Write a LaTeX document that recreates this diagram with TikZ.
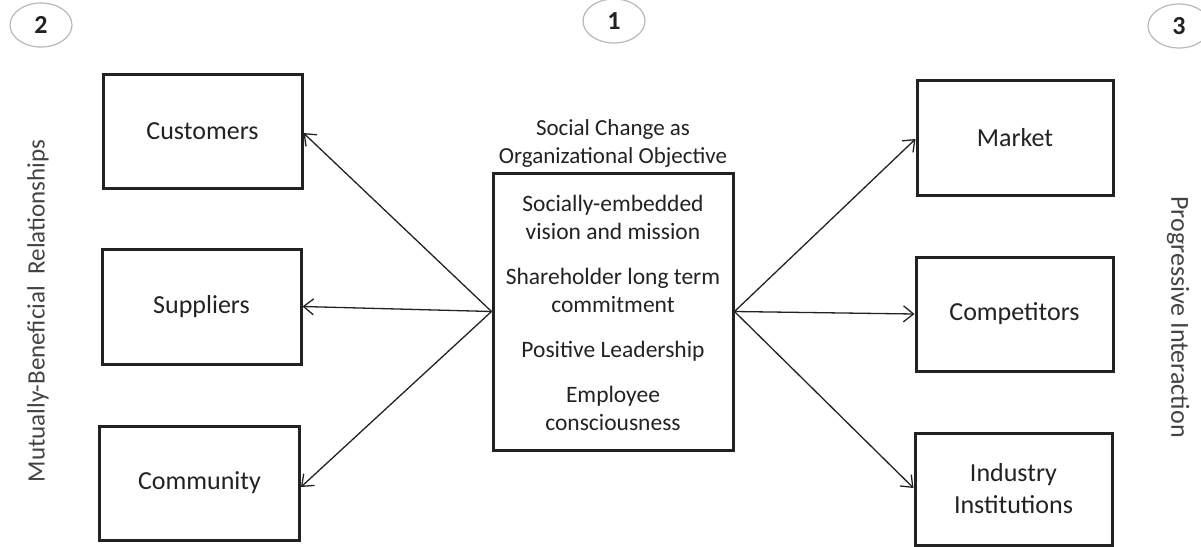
\documentclass[tikz,border=0pt]{standalone}
\usepackage{fontspec}
\setmainfont{Carlito}
\usetikzlibrary{arrows.meta,shapes.geometric}
\definecolor{ink}{HTML}{222222}
\definecolor{ring}{HTML}{B8B8B8}
\begin{document}
\begin{tikzpicture}[x=1pt,y=-1pt,
  box/.style={draw=ink,line width=3pt,rectangle,text=ink,align=center,
    font=\fontsize{26}{30}\selectfont},
  link/.style={draw=ink,line width=1.3pt,-{Straight Barb[length=10pt,width=16pt,line width=1.3pt]}},
  badge/.style={draw=ring,line width=1.2pt,ellipse,text=ink,
    font=\fontsize{26}{26}\selectfont\bfseries},
  side/.style={text=ink!85,font=\fontsize{25}{30}\selectfont}]
\useasboundingbox (0,0) rectangle (1201,546);

% left column
\node[box,minimum width=199pt,minimum height=114pt] (cust) at (202.5,131) {Customers};
\node[box,minimum width=199pt,minimum height=115pt] (supp) at (201.5,306.5) {Suppliers};
\node[box,minimum width=200pt,minimum height=114pt] (comm) at (199.5,483) {Community};

% right column
\node[box,minimum width=196pt,minimum height=115pt] (mark) at (1015,137.5) {Market};
\node[box,minimum width=197pt,minimum height=114pt] (comp) at (1014.5,314) {Competitors};
\node[box,minimum width=197pt,minimum height=112pt] (inst) at (1013.5,489)
  {Industry\\[2pt]Institutions};

% centre block
\node[draw=ink,line width=3pt,minimum width=240pt,minimum height=277pt] (core) at (613,311.5) {};
\node[text=ink,align=center,font=\fontsize{23.5}{28}\selectfont] (items) at (613,313)
  {Socially-embedded\\vision and mission\\[17pt]
   Shareholder long term\\commitment\\[17pt]
   Positive Leadership\\[17pt]
   Employee\\consciousness};
\node[text=ink,align=center,font=\fontsize{23}{28}\selectfont] (goal) at (613,143)
  {Social Change as\\Organizational Objective};

% connectors
\coordinate (lhub) at (core.west);
\coordinate (rhub) at (core.east);
\draw[link] (lhub) -- (cust.east |- 0,133);
\draw[link] (lhub) -- (supp.east);
\draw[link] (lhub) -- (comm.east |- 0,487);
\draw[link] (rhub) -- (mark.west |- 0,139);
\draw[link] (rhub) -- (comp.west);
\draw[link] (rhub) -- (inst.west |- 0,488);

% numbered badges
\node[badge,minimum width=62pt,minimum height=44pt] (b2) at (41,25) {2};
\node[badge,minimum width=62pt,minimum height=44pt] (b1) at (614,21) {1};
\node[badge,minimum width=62pt,minimum height=44pt] (b3) at (1179,26) {3};

% column captions
\node[side,rotate=90] (lcap) at (38,311) {Mutually-Beneficial\ \ Relationships};
\node[side,rotate=-90,font=\fontsize{26}{30}\selectfont] (rcap) at (1178,317) {Progressive Interaction};
\end{tikzpicture}
\end{document}
